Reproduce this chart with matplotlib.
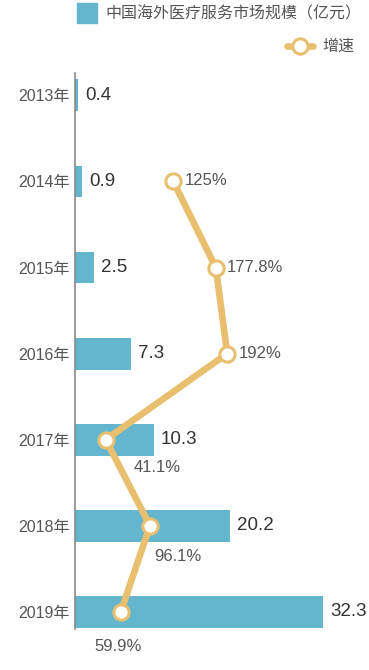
import matplotlib
matplotlib.use("Agg")
import matplotlib.pyplot as plt
from matplotlib.lines import Line2D
from matplotlib.patches import Rectangle

plt.rcParams['font.family'] = ['Liberation Sans', 'Noto Sans CJK SC', 'DejaVu Sans']

years = ["2013年", "2014年", "2015年", "2016年", "2017年", "2018年", "2019年"]
market = [0.4, 0.9, 2.5, 7.3, 10.3, 20.2, 32.3]
growth_years = [1, 2, 3, 4, 5, 6]
growth = [125, 177.8, 192, 41.1, 96.1, 59.9]
growth_labels = ["125%", "177.8%", "192%", "41.1%", "96.1%", "59.9%"]

bar_color = "#63B6CE"
line_color = "#E8BF6F"

W, H = 369, 670
fig = plt.figure(figsize=(W / 100, H / 100), dpi=100)
ax = fig.add_axes([75 / W, (H - 629) / H, 265 / W, (629 - 73) / H])

ypos = list(range(len(years)))
ax.barh(ypos, market, height=0.37, color=bar_color)
ax.set_xlim(0, 265 / 7.68)
ax.set_ylim(6.2, -0.26)
for s in ["top", "right", "bottom"]:
    ax.spines[s].set_visible(False)
ax.spines["left"].set_color("#8a8a8a")
ax.spines["left"].set_linewidth(1.2)
ax.set_xticks([])
ax.set_yticks(ypos)
ax.set_yticklabels(years, fontsize=11.5, color="#555555")
ax.tick_params(axis="y", length=0, pad=4)

for y, v in zip(ypos, market):
    ax.annotate(f"{v}", (v, y), xytext=(5, 0), textcoords="offset points",
                ha="left", va="center", fontsize=13.5, color="#333333")

ax2 = ax.twiny()
ax2.set_xlim(3, 332)
ax2.axis("off")
ax2.set_ylim(6.2, -0.26)
ax2.plot(growth, growth_years, color=line_color, lw=4.8, marker="o",
         markersize=11, markerfacecolor="white", markeredgecolor=line_color,
         markeredgewidth=2.2, solid_capstyle="round", zorder=3)

offsets = [(8, 1, "left", "center"), (8, 0, "left", "center"),
           (8, 0, "left", "center"), (37, -20, "center", "center"),
           (20, -22, "center", "center"), (-2, -25, "center", "center")]
for v, y, lab, (dx, dy, ha, va) in zip(growth, growth_years, growth_labels, offsets):
    ax2.annotate(lab, (v, y), xytext=(dx, dy), textcoords="offset points",
                 ha=ha, va=va, fontsize=12, color="#555555")

# legend
fig.patches.append(Rectangle((77 / W, (H - 23) / H), 20 / W, 20 / H,
                             transform=fig.transFigure, color=bar_color))
fig.text(105 / W, (H - 14) / H, "中国海外医疗服务市场规模（亿元）",
         fontsize=11.5, color="#555555", ha="left", va="center")
fig.lines.append(Line2D([287 / W, 313 / W], [(H - 46) / H] * 2,
                        transform=fig.transFigure, color=line_color, lw=4.8,
                        solid_capstyle="round"))
fig.lines.append(Line2D([300 / W], [(H - 46) / H], transform=fig.transFigure,
                        marker="o", markersize=11, markerfacecolor="white",
                        markeredgecolor=line_color, markeredgewidth=2.2))
fig.text(322 / W, (H - 46) / H, "增速", fontsize=11.5, color="#555555",
         ha="left", va="center")

fig.savefig("out.png", dpi=100)
